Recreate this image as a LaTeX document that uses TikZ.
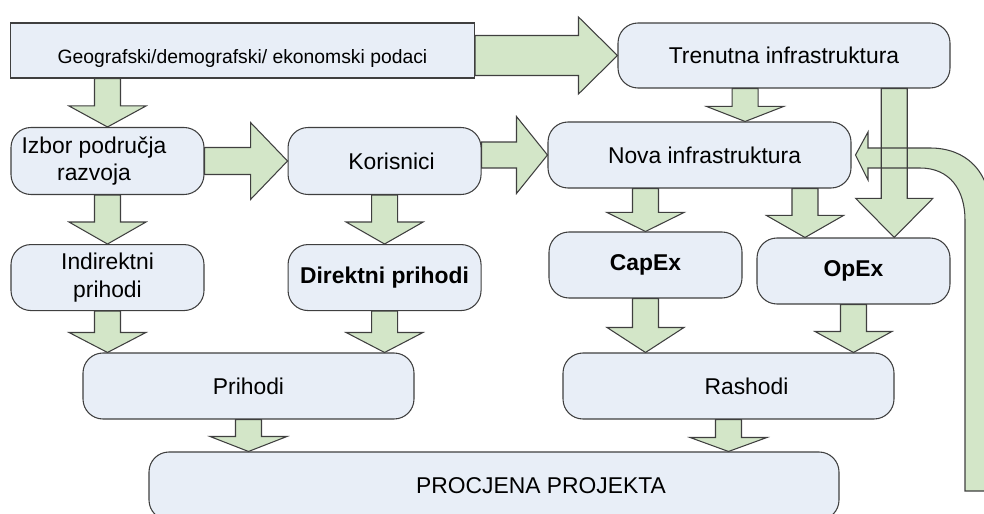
\documentclass[tikz,border=0pt]{standalone}
\usepackage{fontspec}
\setmainfont{Liberation Sans}
\usetikzlibrary{positioning,calc}
\definecolor{boxblue}{HTML}{E8EEF7}
\definecolor{arrowgreen}{HTML}{D3E6C8}
\definecolor{edgegray}{HTML}{3F3F3F}

% block arrow pointing down: [head length]{source}{tip}
\newcommand{\downblock}[3][0.44cm]{%
  \path[blockarrow] let \p1=#2, \p2=#3 in
    (\x2-0.26cm,\y1) -- (\x2-0.26cm,\y2+#1) -- (\x2-0.77cm,\y2+#1) -- (\x2,\y2)
    -- (\x2+0.77cm,\y2+#1) -- (\x2+0.26cm,\y2+#1) -- (\x2+0.26cm,\y1) -- cycle;}
% block arrow pointing right: [head length]{shaft half width}{source}{tip}
\newcommand{\rightblock}[4][0.62cm]{%
  \path[blockarrow] let \p1=#3, \p2=#4 in
    (\x1,\y2+#2) -- (\x2-#1,\y2+#2) -- (\x2-#1,\y2+0.77cm) -- (\x2,\y2)
    -- (\x2-#1,\y2-0.77cm) -- (\x2-#1,\y2-#2) -- (\x1,\y2-#2) -- cycle;}

\begin{document}
\begin{tikzpicture}[node distance=0.98cm,
  box/.style={draw=edgegray,line width=0.6pt,rounded corners=0.4cm,fill=boxblue,minimum width=3.86cm,minimum height=1.32cm,inner sep=0pt,align=center,font=\fontsize{13}{15.5}\selectfont},
  databox/.style={box,sharp corners,font=\fontsize{11}{13}\selectfont},
  blockarrow/.style={draw=edgegray,line width=0.6pt,fill=arrowgreen,line join=miter},
  looppath/.style={insert path={(19.30,-9.82) -- (19.30,-4.40) .. controls (19.30,-3.80) and (19.00,-3.36) .. (18.40,-3.36)
    -- (17.36,-3.36) -- (17.36,-3.60) -- ([xshift=0.08cm]nova.east) -- (17.36,-2.64) -- (17.36,-2.96) -- (18.60,-2.96)
    .. controls (19.30,-2.96) and (19.82,-3.40) .. (19.82,-4.30) -- (19.82,-9.82) -- cycle}}]
\useasboundingbox (0,0) rectangle (19.68,-10.28);
\node[databox,minimum width=9.28cm,minimum height=1.10cm,text height=0.64cm,text depth=0.1cm] (geo) at (4.85,-1.01) {Geografski/demografski/ ekonomski podaci};
\node[box,minimum width=6.64cm,minimum height=1.30cm] (tren) at (15.68,-1.11) {Trenutna infrastruktura};
\node[box,minimum height=1.34cm] (izbor) at (2.15,-3.22) {\mbox{Izbor područja\hspace{0.54cm}}\\\mbox{razvoja\hspace{0.54cm}}};
\node[box,minimum height=1.34cm,right=1.66cm of izbor] (kor) {\hspace*{0.28cm}Korisnici};
\node[box,minimum width=6.06cm] (nova) at (13.99,-3.10) {\hspace*{0.2cm}Nova infrastruktura};
\node[box,below=of izbor] (indir) {Indirektni\\prihodi};
\node[box,below=of kor] (direkt) {\textbf{Direktni prihodi}};
\node[box] (capex) at (12.91,-5.30) {\textbf{CapEx}};
\node[box] (opex) at (17.07,-5.42) {\textbf{OpEx}};
\node[box,minimum width=6.62cm] (prihodi) at (4.97,-7.72) {Prihodi};
\node[box,minimum width=6.62cm] (rashodi) at (14.57,-7.72) {\hspace*{0.72cm}Rashodi};
\node[box,minimum width=13.80cm,minimum height=1.36cm] (procjena) at (9.88,-9.72) {\hspace*{1.88cm}PROCJENA PROJEKTA};
% left column
\downblock[0.42cm]{(geo.south)}{(izbor.north)};
\downblock{(izbor.south)}{(indir.north)};
\downblock[0.40cm]{(indir.south)}{(indir.south |- prihodi.north)};
\downblock{(kor.south)}{(direkt.north)};
\downblock[0.40cm]{(direkt.south)}{(direkt.south |- prihodi.north)};
\downblock[0.30cm]{(prihodi.south)}{(prihodi.south |- procjena.north)};
% right column
\path[fill=arrowgreen,looppath];
\downblock[0.30cm]{(tren.south)}{($(nova.north west)!0.65!(nova.north east)$)};
\downblock[0.78cm]{(tren.south)}{($(opex.north west)!0.71!(opex.north east)$)};
\path[draw=edgegray,line width=0.6pt,line join=miter,looppath];
\downblock[0.38cm]{(nova.south)}{(capex.north)};
\downblock{(nova.south)}{($(opex.north west)!0.25!(opex.north east)$)};
\downblock[0.50cm]{(capex.south)}{(capex.south |- rashodi.north)};
\downblock[0.42cm]{(opex.south)}{(opex.south |- rashodi.north)};
\downblock[0.28cm]{(rashodi.south)}{(rashodi.south |- procjena.north)};
% across
\rightblock[0.78cm]{0.40cm}{(geo.east)}{(tren.west)};
\rightblock[0.74cm]{0.27cm}{(izbor.east)}{(kor.west)};
\rightblock[0.62cm]{0.26cm}{(kor.east)}{(nova.west)};
\end{tikzpicture}
\end{document}
